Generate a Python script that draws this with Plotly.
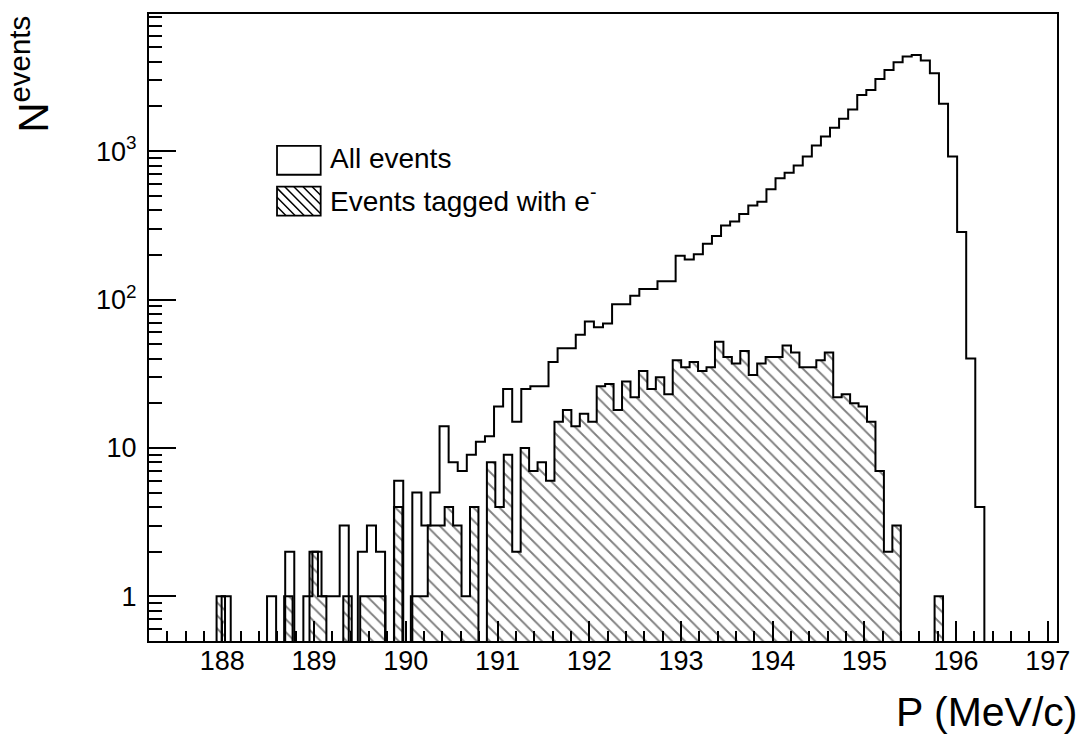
import numpy as np
import plotly.graph_objects as go

# ---------------------------------------------------------------------------
# Momentum spectrum: all events vs. events tagged with an electron
# ---------------------------------------------------------------------------
P_MIN, P_MAX = 187.2, 197.1          # momentum axis range (MeV/c)
ALL_BIN_WIDTH = 0.099                # 100 bins over the axis range
TAG_BIN_WIDTH = 0.0921               # binning of the tagged histogram

# counts per bin, all events (bin k starts at P_MIN + k*ALL_BIN_WIDTH)
all_events = [
    0, 0, 0, 0, 0, 0, 0, 0, 1, 0,
    0, 0, 0, 1, 0, 2, 0, 1, 2, 1,
    1, 3, 0, 2, 3, 2, 0, 6, 0, 5,
    3, 5, 14, 8, 7, 9, 11, 12, 19, 25,
    15, 25, 26, 26, 38, 47, 47, 58, 71, 65,
    69, 93, 93, 106, 118, 118, 133, 133, 197, 186,
    202, 238, 268, 316, 336, 377, 431, 456, 554, 658,
    716, 801, 921, 1092, 1255, 1436, 1651, 1907, 2394, 2587,
    3069, 3527, 3969, 4338, 4450, 4075, 3348, 2083, 921, 285,
    40, 4, 0, 0, 0, 0, 0, 0, 0, 0,
]

# counts per bin, events tagged with e- (bin j starts at P_MIN + j*TAG_BIN_WIDTH)
tagged_events = [
    0, 0, 0, 0, 0, 0, 0, 0, 1, 0,
    0, 0, 0, 0, 0, 0, 1, 0, 0, 2,
    1, 0, 0, 1, 0, 1, 1, 1, 0, 4,
    0, 1, 1, 3, 3, 4, 3, 1, 4, 0,
    8, 4, 9, 2, 10, 7, 8, 6, 15, 18,
    14, 17, 15, 26, 27, 18, 28, 22, 33, 25,
    30, 23, 39, 35, 38, 33, 35, 52, 41, 37,
    45, 31, 37, 41, 41, 49, 44, 35, 35, 39,
    44, 22, 23, 20, 19, 15, 7, 2, 3, 0,
    0, 0, 0, 1, 0, 0, 0, 0, 0, 0,
    0, 0, 0, 0, 0, 0, 0, 0,
]

x_tick_values = [188, 189, 190, 191, 192, 193, 194, 195, 196, 197]
x_tick_labels = [str(v) for v in x_tick_values]
y_tick_values = [1, 10, 100, 1000]
y_tick_labels = ["1", "10", "10<sup>2</sup>", "10<sup>3</sup>"]
y_minor_values = [m * 10.0 ** e for e in range(-1, 4) for m in range(2, 10)]

legend_labels = ["All events", "Events tagged with e<sup>-</sup>"]
x_title = "P (MeV/c)"
y_title = "N<sup>events</sup>"

# ---------------------------------------------------------------------------
W, H = 1082, 741
PLOT_L, PLOT_R, PLOT_T, PLOT_B = 149, 1064, 13, 641
FONT = "Liberation Sans, Arial, Helvetica, sans-serif"
LINE_W = 2.0
HATCH_SPACING = 9.2
Y_LOW, Y_HIGH = 0.5, 8400.0
FLOOR = 1e-3   # drawn below the axis minimum so empty bins drop out of view


def px_x(px):
    return (px - PLOT_L) / (PLOT_R - PLOT_L)


def px_y(py):
    return (PLOT_B - py) / (PLOT_B - PLOT_T)


def step_outline(edges, counts):
    """Histogram contour (ROOT-style) for an 'hv' stepped line."""
    c = np.asarray(counts, dtype=float)
    c = np.where(c > 0, c, FLOOR)
    x = np.concatenate([[edges[0]], edges])
    y = np.concatenate([[FLOOR], c, [FLOOR]])
    return x, y


all_counts = np.asarray(all_events, dtype=float)
tag_counts = np.asarray(tagged_events, dtype=float)
all_edges = P_MIN + ALL_BIN_WIDTH * np.arange(len(all_counts) + 1)
tag_edges = P_MIN + TAG_BIN_WIDTH * np.arange(len(tag_counts) + 1)
tag_centers = 0.5 * (tag_edges[:-1] + tag_edges[1:])

fig = go.Figure()

# hatched fill of the tagged histogram
filled = tag_counts > 0
fig.add_trace(go.Bar(
    x=tag_centers[filled], y=tag_counts[filled], width=TAG_BIN_WIDTH,
    marker=dict(
        color="white", line=dict(width=0),
        pattern=dict(shape="\\", fgcolor="black", bgcolor="white",
                     size=HATCH_SPACING, solidity=0.2),
    ),
    showlegend=False, hoverinfo="skip",
))

# contour of the tagged histogram
tx, ty = step_outline(tag_edges, tag_counts)
fig.add_trace(go.Scatter(
    x=tx, y=ty, mode="lines",
    line=dict(color="black", width=LINE_W, shape="hv", simplify=False),
    showlegend=False, hoverinfo="skip",
))

# contour of the all-events histogram
ax, ay = step_outline(all_edges, all_counts)
fig.add_trace(go.Scatter(
    x=ax, y=ay, mode="lines",
    line=dict(color="black", width=LINE_W, shape="hv", simplify=False),
    showlegend=False, hoverinfo="skip",
))

# ---------------------------------------------------------------------------
# legend (boxes + labels)
shapes = []
box_x0, box_x1 = 278, 322
boxes = [(145, 174), (186, 215)]
for (y0, y1) in boxes:
    shapes.append(dict(type="rect", xref="paper", yref="paper",
                       x0=px_x(box_x0), x1=px_x(box_x1), y0=px_y(y1), y1=px_y(y0),
                       line=dict(color="black", width=1.8), fillcolor="white"))

# hatch lines inside the second legend box
hy0, hy1 = boxes[1]
hh = hy1 - hy0
segs = []
for u in np.arange(box_x0 - hh, box_x1, HATCH_SPACING):
    t0 = max(0.0, (box_x0 - u) / hh)
    t1 = min(1.0, (box_x1 - u) / hh)
    if t1 <= t0:
        continue
    xa, ya = u + t0 * hh, hy0 + t0 * hh
    xb, yb = u + t1 * hh, hy0 + t1 * hh
    segs.append(f"M{px_x(xa):.5f},{px_y(ya):.5f}L{px_x(xb):.5f},{px_y(yb):.5f}")
shapes.append(dict(type="path", xref="paper", yref="paper", path="".join(segs),
                   line=dict(color="black", width=1.5)))

annotations = []
for label, (y0, y1) in zip(legend_labels, boxes):
    annotations.append(dict(
        text=label, xref="paper", yref="paper", x=px_x(329), y=px_y(0.5 * (y0 + y1) - 2),
        xanchor="left", yanchor="middle", showarrow=False,
        font=dict(family=FONT, size=28, color="black"),
    ))

# axis titles
annotations.append(dict(
    text=x_title, xref="paper", yref="paper", x=px_x(1087), y=px_y(712),
    xanchor="right", yanchor="middle", showarrow=False,
    font=dict(family=FONT, size=41, color="black"),
))
annotations.append(dict(
    text=y_title, xref="paper", yref="paper", x=px_x(29), y=px_y(73),
    xanchor="center", yanchor="middle", textangle=-90, showarrow=False,
    font=dict(family=FONT, size=42, color="black"),
))

fig.update_xaxes(
    range=[P_MIN, P_MAX],
    tickmode="array", tickvals=x_tick_values, ticktext=x_tick_labels,
    ticks="inside", ticklen=20, tickwidth=1.5, tickcolor="black",
    minor=dict(tick0=188, dtick=0.2, ticks="inside", ticklen=10,
               tickwidth=1.5, tickcolor="black", showgrid=False),
    showline=True, linewidth=2, linecolor="black", mirror=True,
    showgrid=False, zeroline=False, ticklabelstandoff=-5,
    tickfont=dict(family=FONT, size=27, color="black"),
)
fig.update_yaxes(
    type="log", range=[np.log10(Y_LOW), np.log10(Y_HIGH)],
    tickmode="array", tickvals=y_tick_values, ticktext=y_tick_labels,
    ticks="inside", ticklen=27, tickwidth=1.5, tickcolor="black",
    minor=dict(tickvals=y_minor_values, ticks="inside", ticklen=13,
               tickwidth=1.5, tickcolor="black", showgrid=False),
    showline=True, linewidth=2, linecolor="black", mirror=True,
    showgrid=False, zeroline=False, ticklabelstandoff=5,
    tickfont=dict(family=FONT, size=27, color="black"),
)

fig.update_layout(
    width=W, height=H,
    margin=dict(l=PLOT_L, r=W - PLOT_R, t=PLOT_T, b=H - PLOT_B, pad=0),
    paper_bgcolor="white", plot_bgcolor="white",
    barmode="overlay", bargap=0, showlegend=False,
    shapes=shapes, annotations=annotations,
)

fig.write_html("out.html")
